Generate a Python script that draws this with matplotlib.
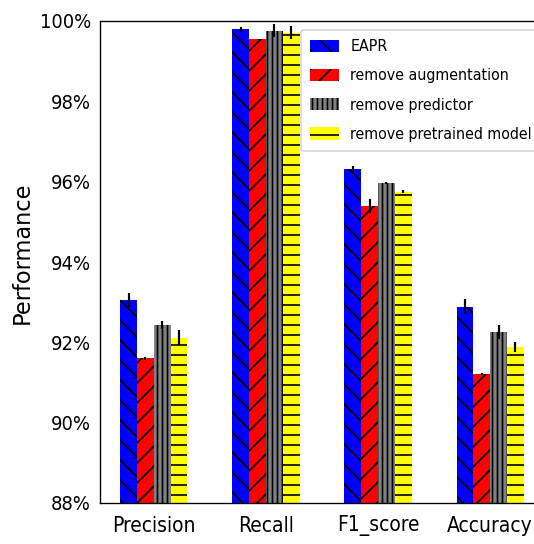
import numpy as np
import matplotlib
matplotlib.use('Agg')
import matplotlib.pyplot as plt
from matplotlib.ticker import PercentFormatter

metrics = ['Precision', 'Recall', 'F1_score', 'Accuracy']
series = ['EAPR', 'remove augmentation', 'remove predictor', 'remove pretrained model']

eapr = [93.05, 99.79, 96.31, 92.89]
no_aug = [91.60, 99.54, 95.40, 91.21]
no_pred = [92.42, 99.76, 95.96, 92.25]
no_pre = [92.12, 99.71, 95.75, 91.88]

eapr_err = [0.17, 0.07, 0.08, 0.18]
no_aug_err = [0.03, 0.02, 0.18, 0.03]
no_pred_err = [0.10, 0.16, 0.02, 0.17]
no_pre_err = [0.19, 0.17, 0.04, 0.12]

colors = ['blue', 'red', 'gray', 'yellow']
hatches = ['\\\\', '//', '||||', '--']

plt.rcParams['hatch.linewidth'] = 1.0

W, H, DPI = 534, 544, 120
fig = plt.figure(figsize=(W / DPI, H / DPI), dpi=DPI)
ax = fig.add_axes([100 / W, 1 - 503 / H, 444 / W, 482 / H])

x = np.arange(len(metrics))
w = 0.15
vals = [eapr, no_aug, no_pred, no_pre]
errs = [eapr_err, no_aug_err, no_pred_err, no_pre_err]
for i in range(4):
    ax.bar(x + (i - 1.5) * w, vals[i], w, yerr=errs[i], color=colors[i],
           edgecolor='black', linewidth=0, hatch=hatches[i], label=series[i],
           error_kw=dict(ecolor='black', elinewidth=1.3, capsize=0))

ax.set_xlim(-0.48, 3.48)
ax.set_ylim(88, 100)
ax.set_yticks(np.arange(88, 100.1, 2))
ax.yaxis.set_major_formatter(PercentFormatter(decimals=0))
ax.set_xticks(x)
ax.set_xticklabels(metrics, fontsize=12.5, fontstretch='condensed')
ax.tick_params(axis='both', length=0)
ax.tick_params(axis='y', pad=5.5, labelsize=12)
ax.tick_params(axis='x', pad=7.5)
for t in ax.get_yticklabels():
    t.set_fontstretch('condensed')
ax.set_ylabel('Performance', fontsize=13.5)
ax.yaxis.set_label_coords(-0.15, 0.52)

leg = ax.legend(loc='upper right', bbox_to_anchor=(1.014, 1.0),
                prop=dict(size=9.5, stretch='condensed'),
                handlelength=1.8, handleheight=0.8, handletextpad=0.75,
                labelspacing=0.9, borderpad=0.6, borderaxespad=0.55)

fig.savefig('out.png', dpi=DPI)
